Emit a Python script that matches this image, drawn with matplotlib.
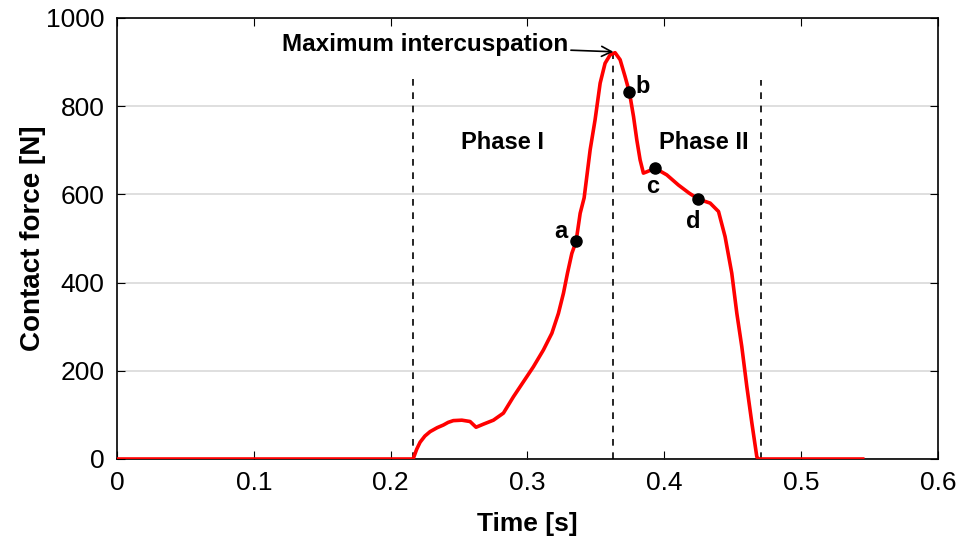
import numpy as np
import matplotlib.pyplot as plt

plt.rcParams['font.family'] = ['Liberation Sans', 'DejaVu Sans']

# contact force curve
time_s = [0.0, 0.2164, 0.2190, 0.2215, 0.2250, 0.2288, 0.2340, 0.2385, 0.2420,
          0.2458, 0.2520, 0.2580, 0.2624, 0.2678, 0.2751, 0.2824, 0.2897,
          0.2970, 0.3043, 0.3116, 0.3178, 0.3226, 0.3263, 0.3292, 0.3324,
          0.3355, 0.3385, 0.3414, 0.3458, 0.3494, 0.3531, 0.3567, 0.3604,
          0.3640, 0.3677, 0.3713, 0.3745, 0.3775, 0.3799, 0.3823, 0.3847,
          0.3872, 0.3933, 0.4018, 0.4103, 0.4180, 0.4249, 0.4335, 0.4396,
          0.4444, 0.4493, 0.4530, 0.4566, 0.4603, 0.4640, 0.4676, 0.4688,
          0.5450]
force_n = [0, 0, 22, 38, 52, 62, 71, 77, 83,
           87, 88, 85, 72, 79, 88, 104, 141,
           175, 209, 247, 285, 330, 376, 421, 466,
           493, 557, 592, 701, 769, 852, 897, 916,
           921, 905, 867, 831, 776, 723, 678, 648,
           651, 659, 644, 621, 603, 589, 580, 561,
           504, 421, 330, 255, 164, 81, 5, 0,
           0]

point_labels = ['a', 'b', 'c', 'd']
point_t = [0.3355, 0.3745, 0.3933, 0.4249]
point_f = [493, 831, 659, 589]
label_dx = [-0.011, 0.010, -0.002, -0.004]
label_dy = [22, 14, -42, -50]

# dashed phase boundaries
bound_t = [0.216, 0.3625, 0.4705]
bound_top = [875, 921, 860]

fig, ax = plt.subplots(figsize=(9.71, 5.4), dpi=100)
fig.subplots_adjust(left=0.1205, right=0.966, top=0.967, bottom=0.15)

ax.grid(axis='y', color='#d9d9d9', linewidth=1.2)
ax.set_axisbelow(True)

for t, top in zip(bound_t, bound_top):
    ax.plot([t, t], [0, top], color='black', linestyle=(0, (4, 4)), linewidth=1.2)

ax.plot(time_s, force_n, color='red', linewidth=2.6, zorder=3)
ax.plot(point_t, point_f, 'o', color='black', markersize=8, zorder=4)
for lab, t, f, dx, dy in zip(point_labels, point_t, point_f, label_dx, label_dy):
    ax.text(t + dx, f + dy, lab, fontsize=17, fontweight='bold', ha='center',
            va='center')

ax.text(0.282, 717, 'Phase I', fontsize=17, fontweight='bold', ha='center', va='center')
ax.text(0.4285, 717, 'Phase II', fontsize=17, fontweight='bold', ha='center', va='center')

ax.annotate('Maximum intercuspation', xy=(0.3628, 923), xytext=(0.3297, 939),
            fontsize=17.5, fontweight='bold', ha='right', va='center',
            arrowprops=dict(arrowstyle='->', color='black', lw=1.2,
                            mutation_scale=18, shrinkA=0, shrinkB=0))

ax.set_xlim(0, 0.6)
ax.set_ylim(0, 1000)
ax.set_xticks(np.arange(0, 0.61, 0.1))
ax.set_xticklabels(['0', '0.1', '0.2', '0.3', '0.4', '0.5', '0.6'])
ax.set_yticks(np.arange(0, 1001, 200))
ax.tick_params(direction='in', top=True, right=True, length=6, labelsize=19, pad=9)
ax.set_xlabel('Time [s]', fontsize=19, fontweight='bold', labelpad=12)
ax.set_ylabel('Contact force [N]', fontsize=20, fontweight='bold', labelpad=0)
for s in ax.spines.values():
    s.set_linewidth(1.2)

fig.savefig('out.png', dpi=100)
